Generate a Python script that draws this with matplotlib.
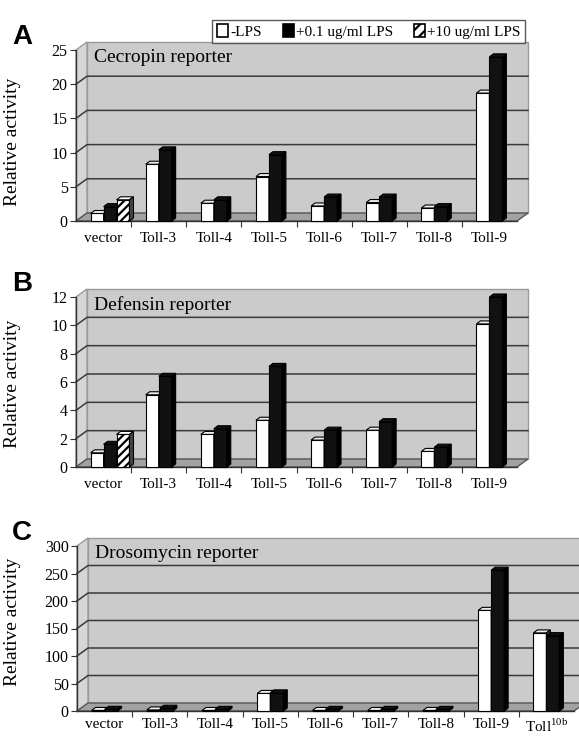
import numpy as np
import matplotlib
matplotlib.use('Agg')
import matplotlib.pyplot as plt
from matplotlib.patches import Polygon, Patch

plt.rcParams['font.family'] = ['Liberation Serif', 'DejaVu Serif']
plt.rcParams['mathtext.fontset'] = 'custom'
plt.rcParams['mathtext.rm'] = 'Liberation Serif'
plt.rcParams['hatch.linewidth'] = 1.6

W, H = 579, 736

# data
cats = ['vector', 'Toll-3', 'Toll-4', 'Toll-5', 'Toll-6', 'Toll-7', 'Toll-8', 'Toll-9']
cats_c = cats + [r'Toll$^{\mathrm{10b}}$']
series_names = ['-LPS', '+0.1 ug/ml LPS', '+10 ug/ml LPS']

cec_none = [1.1, 8.3, 2.6, 6.5, 2.2, 2.7, 1.9, 18.7]
cec_low = [2.1, 10.4, 3.1, 9.7, 3.5, 3.5, 2.1, 24.0]
cec_high = [3.1]          # vector only

def_none = [1.0, 5.1, 2.3, 3.3, 1.9, 2.6, 1.1, 10.1]
def_low = [1.6, 6.4, 2.7, 7.1, 2.6, 3.2, 1.4, 12.0]
def_high = [2.3]

dro_none = [1, 2, 1, 32, 1, 1, 1, 183, 142]
dro_low = [3, 5, 3, 33, 3, 3, 3, 256, 137]


def fx(x):
    return x / W


def fy(y):
    return 1 - y / H


fig = plt.figure(figsize=(W / 100, H / 100), dpi=100)
fig.patch.set_facecolor('white')


def bars3d(ax, xs, vals, bw, bdx, bdy, face, top, side, z, hatch=None):
    ax.bar(xs, vals, width=bw, align='edge', color=face, edgecolor='black',
           linewidth=0.8, hatch=hatch, zorder=z, clip_on=False)
    for x, v in zip(xs, vals):
        ax.add_patch(Polygon([(x, v), (x + bw, v), (x + bw + bdx, v + bdy), (x + bdx, v + bdy)],
                             closed=True, fc=top, ec='black', lw=0.8, zorder=z, clip_on=False))
        ax.add_patch(Polygon([(x + bw, 0), (x + bw + bdx, bdy), (x + bw + bdx, v + bdy), (x + bw, v)],
                             closed=True, fc=side, ec='black', lw=0.8, zorder=z, clip_on=False))


def panel(box, labels, ymax, step, series, title, letter, ylab_y, xpad=8):
    x0, x1, yb, yt = box
    n = len(labels)
    ax = fig.add_axes([fx(x0), fy(yb), (x1 - x0) / W, (yb - yt) / H])
    ax.set_xlim(0, n)
    ax.set_ylim(0, ymax)
    ax.patch.set_visible(False)
    px = (x1 - x0) / n
    py = (yb - yt) / ymax
    wdx, wdy = 11 / px, 8 / py
    bdx, bdy = 4 / px, 3 / py

    # walls and floor
    ax.add_patch(Polygon([(wdx, wdy), (n + wdx, wdy), (n + wdx, ymax + wdy), (wdx, ymax + wdy)],
                         closed=True, fc='#cbcbcb', ec='#9a9a9a', lw=1, zorder=0, clip_on=False))
    ax.add_patch(Polygon([(0, 0), (wdx, wdy), (wdx, ymax + wdy), (0, ymax)],
                         closed=True, fc='#d6d6d6', ec='#9a9a9a', lw=1, zorder=0, clip_on=False))
    ax.add_patch(Polygon([(0, 0), (n, 0), (n + wdx, wdy), (wdx, wdy)],
                         closed=True, fc='#a2a2a2', ec='#555555', lw=1, zorder=0, clip_on=False))
    ticks = np.arange(0, ymax + step / 2, step)
    for v in ticks[1:-1]:
        ax.plot([0, wdx, n + wdx], [v, v + wdy, v + wdy], color='#3a3a3a', lw=1.1,
                zorder=1, clip_on=False)

    # bars
    bw = 0.235
    styles = [('white', '#eeeeee', '#444444', None),
              ('#111111', '#111111', '#000000', None),
              ('white', 'white', '#444444', '////')]
    for k, vals in enumerate(series):
        xs = np.arange(len(vals)) + 0.5 - bw + k * bw
        face, top, side, hatch = styles[k]
        bars3d(ax, xs, vals, bw, bdx, bdy, face, top, side, 3 + k, hatch)

    # axes
    for s in ['top', 'right']:
        ax.spines[s].set_visible(False)
    for s in ['left', 'bottom']:
        ax.spines[s].set_color('#333333')
        ax.spines[s].set_linewidth(1.0)
        ax.spines[s].set_zorder(2)
    ax.set_yticks(ticks)
    ax.set_yticklabels([str(int(t)) for t in ticks])
    ax.set_xticks(np.arange(n) + 0.5)
    ax.set_xticklabels(labels)
    ax.set_xticks(np.arange(1, n), minor=True)
    ax.tick_params(axis='y', length=4, width=0.8, color='#333333', pad=2, labelsize=11.5)
    ax.tick_params(axis='x', which='major', length=0, pad=xpad, labelsize=11)
    ax.tick_params(axis='x', which='minor', length=4, width=0.8, color='#333333')
    ax.set_ylabel('Relative activity', fontsize=14)
    ax.yaxis.set_label_coords((21 - x0) / (x1 - x0), (yb - ylab_y) / (yb - yt))

    fig.text(fx(x0 + 18), fy(yt + 8), title, fontsize=14, ha='left', va='center')
    fig.text(fx(12), fy(box[3] - 13), letter, fontsize=20, fontweight='bold',
             family='Liberation Sans', ha='left', va='center')
    return ax


panel((76, 517, 221, 50), cats, 25, 5, [cec_none, cec_low, cec_high],
      'Cecropin reporter', 'A', 142)
panel((76, 517, 467, 297), cats, 12, 2, [def_none, def_low, def_high],
      'Defensin reporter', 'B', 384)
panel((77, 574, 711, 546), cats_c, 300, 50, [dro_none, dro_low],
      'Drosomycin reporter', 'C', 622, xpad=5)

handles = [Patch(fc='white', ec='black', lw=1.2),
           Patch(fc='black', ec='black', lw=1.2),
           Patch(fc='white', ec='black', lw=1.2, hatch='///')]
leg = fig.legend(handles, series_names, ncol=3, loc='upper right',
                 bbox_to_anchor=(fx(533), fy(12)), frameon=True, fancybox=False,
                 edgecolor='#333333', handlelength=0.7, handleheight=0.9,
                 handletextpad=0.15, columnspacing=1.4, borderpad=0.3, fontsize=11)
leg.get_frame().set_linewidth(1.0)

fig.savefig('out.png', dpi=100, facecolor='white')
